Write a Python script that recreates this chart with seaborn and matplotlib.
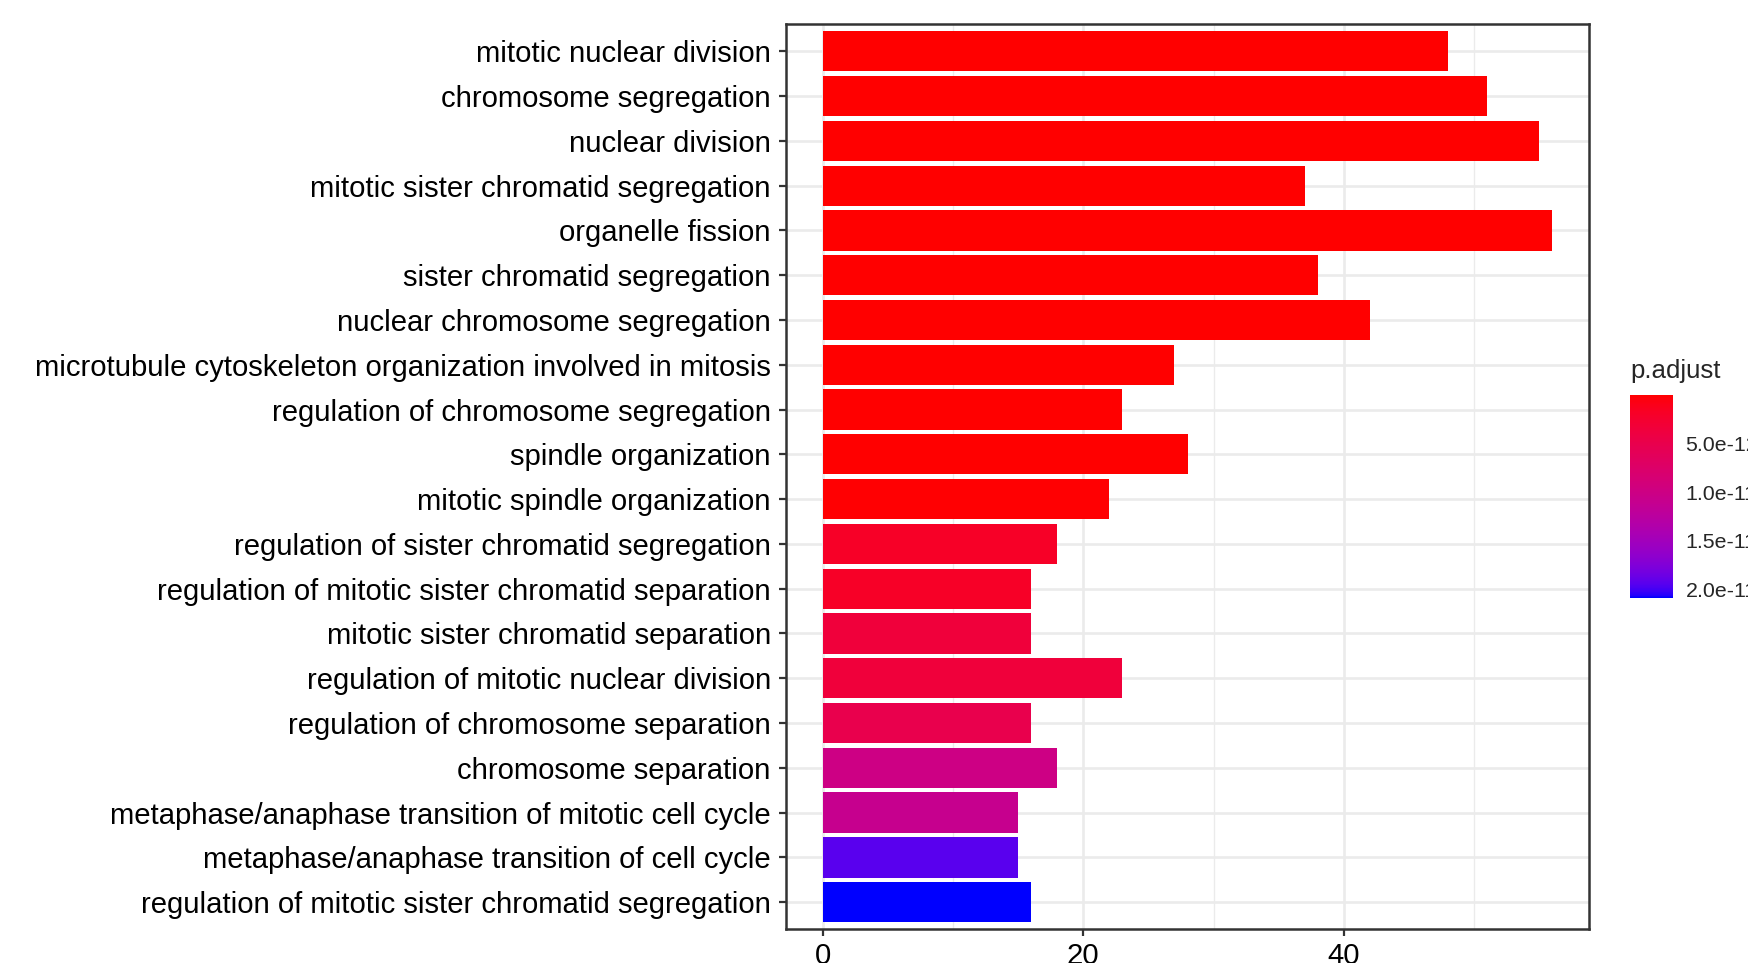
import numpy as np
import pandas as pd
import matplotlib

matplotlib.use("Agg")
import matplotlib.pyplot as plt
import seaborn as sns
from matplotlib import font_manager
from matplotlib.cm import ScalarMappable
from matplotlib.colors import ListedColormap, Normalize
from matplotlib.ticker import MultipleLocator

terms = [
    "mitotic nuclear division",
    "chromosome segregation",
    "nuclear division",
    "mitotic sister chromatid segregation",
    "organelle fission",
    "sister chromatid segregation",
    "nuclear chromosome segregation",
    "microtubule cytoskeleton organization involved in mitosis",
    "regulation of chromosome segregation",
    "spindle organization",
    "mitotic spindle organization",
    "regulation of sister chromatid segregation",
    "regulation of mitotic sister chromatid separation",
    "mitotic sister chromatid separation",
    "regulation of mitotic nuclear division",
    "regulation of chromosome separation",
    "chromosome separation",
    "metaphase/anaphase transition of mitotic cell cycle",
    "metaphase/anaphase transition of cell cycle",
    "regulation of mitotic sister chromatid segregation",
]
counts = [48, 51, 55, 37, 56, 38, 42, 27, 23, 28, 22, 18, 16, 16, 23, 16, 18, 15, 15, 16]
p_adjust = [
    1.0e-20, 4.0e-19, 2.0e-18, 6.0e-17, 3.0e-18, 4.0e-16, 2.0e-16,
    8.0e-15, 5.0e-14, 3.0e-14, 9.0e-14,
    1.9e-12, 1.9e-12, 3.5e-12, 3.5e-12, 5.0e-12,
    1.0e-11, 1.1e-11, 1.94e-11, 2.09e-11,
]
cbar_ticks = [5.0e-12, 1.0e-11, 1.5e-11, 2.0e-11]
cbar_labels = ["5.0e-12", "1.0e-11", "1.5e-11", "2.0e-11"]

df = pd.DataFrame({"Description": terms, "Count": counts, "p.adjust": p_adjust})

# red -> blue gradient interpolated in Lab space (like ggplot's continuous fill)
M = np.array([[0.4124, 0.3576, 0.1805], [0.2126, 0.7152, 0.0722], [0.0193, 0.1192, 0.9505]])
WHITE = np.array([0.95047, 1.0, 1.08883])


def srgb_to_lab(rgb):
    rgb = np.asarray(rgb, float)
    lin = np.where(rgb <= 0.04045, rgb / 12.92, ((rgb + 0.055) / 1.055) ** 2.4)
    xyz = (M @ lin) / WHITE
    f = np.where(xyz > (6 / 29) ** 3, np.cbrt(xyz), xyz / (3 * (6 / 29) ** 2) + 4 / 29)
    return np.array([116 * f[1] - 16, 500 * (f[0] - f[1]), 200 * (f[1] - f[2])])


def lab_to_srgb(lab):
    L, a, b = lab[:, 0], lab[:, 1], lab[:, 2]
    fy = (L + 16) / 116
    fx = fy + a / 500
    fz = fy - b / 200

    def finv(t):
        return np.where(t > 6 / 29, t ** 3, 3 * (6 / 29) ** 2 * (t - 4 / 29))

    xyz = np.stack([finv(fx), finv(fy), finv(fz)], axis=1) * WHITE
    lin = np.clip(xyz @ np.linalg.inv(M).T, 0, 1)
    rgb = np.where(lin <= 0.0031308, 12.92 * lin, 1.055 * lin ** (1 / 2.4) - 0.055)
    return np.clip(rgb, 0, 1)


t = np.linspace(0, 1, 256)[:, None]
lab = srgb_to_lab([1, 0, 0]) * (1 - t) + srgb_to_lab([0, 0, 1]) * t
cmap = ListedColormap(lab_to_srgb(lab))
norm = Normalize(vmin=min(p_adjust), vmax=max(p_adjust))

try:
    font_manager.findfont("Liberation Sans Narrow", fallback_to_default=False)
    family, scale = "Liberation Sans Narrow", 1.0
except ValueError:
    family, scale = "Liberation Sans", 0.81

sns.set_style("white")
plt.rcParams["font.family"] = [family, "DejaVu Sans"]

fig = plt.figure(figsize=(17.48, 9.63), dpi=100)
ax = fig.add_axes([0.4497, 0.0353, 0.4593, 0.9393])

sns.barplot(
    data=df,
    x="Count",
    y="Description",
    hue="p.adjust",
    order=terms,
    palette=cmap,
    hue_norm=norm,
    dodge=False,
    width=0.9,
    saturation=1,
    linewidth=0,
    legend=False,
    ax=ax,
)

ax.set_xlim(-2.8, 58.8)
ax.set_ylim(19.6, -0.6)
ax.set_xticks([0, 20, 40])
ax.xaxis.set_minor_locator(MultipleLocator(10))
ax.set_axisbelow(True)
ax.grid(which="major", color="#EBEBEB", lw=1.9)
ax.grid(which="minor", axis="x", color="#EBEBEB", lw=1.0)
ax.set_xlabel("")
ax.set_ylabel("")
for s in ax.spines.values():
    s.set_visible(True)
    s.set_color("#333333")
    s.set_linewidth(1.8)
ax.tick_params(which="major", length=5, width=1.6, color="#333333", pad=6,
               labelsize=26 * scale, labelcolor="black", left=True, bottom=True)
ax.tick_params(axis="x", pad=4)
ax.tick_params(which="minor", length=0)

cax = fig.add_axes([0.9325, 0.379, 0.0246, 0.211])
cb = fig.colorbar(ScalarMappable(norm=norm, cmap=cmap), cax=cax)
cb.outline.set_visible(False)
cax.invert_yaxis()
cb.set_ticks(cbar_ticks)
cb.set_ticklabels(cbar_labels)
cax.yaxis.set_ticks_position("both")
cax.tick_params(direction="in", length=7, width=1.2, color="white", pad=9,
                labelsize=19 * scale, labelleft=False, labelright=True)
fig.text(0.9325, 0.607, "p.adjust", fontsize=23 * scale, ha="left", va="baseline")

fig.savefig("out.png", dpi=100)
plt.close("all")
